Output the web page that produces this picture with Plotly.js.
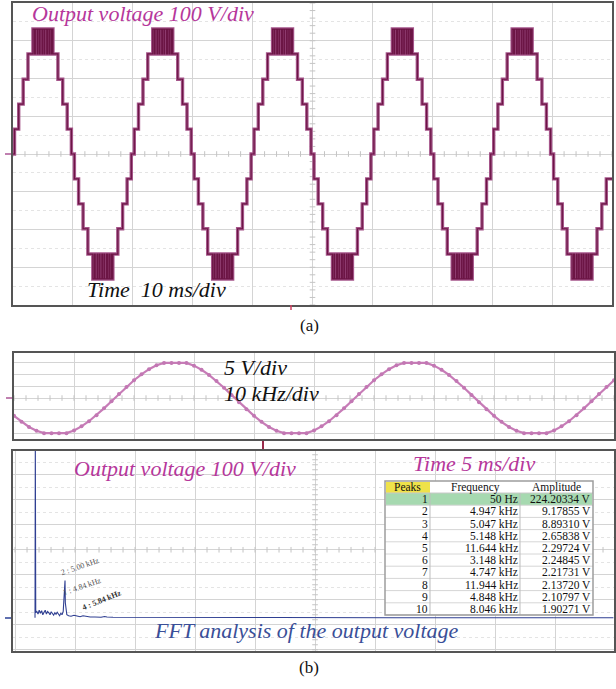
<!DOCTYPE html>
<html><head><meta charset="utf-8">
<script src="https://cdn.plot.ly/plotly-3.0.1.min.js"></script>
<style>html,body{margin:0;padding:0;background:#fff}#chart{width:616px;height:689px}</style>
</head><body><div id="chart"></div>
<script>
// ---------- Panel (a): multilevel staircase output voltage (time in ms, voltage in V) ----------
const periodStartsMs = [0, 20, 40, 60, 80];
const stepTimesMs = [-0.25, 0.25, 0.95, 1.7, 2.5, 7.5, 8.3, 9.05, 9.75, 10.25, 10.95, 11.7, 12.5, 17.5, 18.3, 19.05];
const stepLevels  = [0, 1, 2, 3, 4, 3, 2, 1, 0, -1, -2, -3, -4, -3, -2, -1];
const levelVolts  = [0, 66, 132, 198, 265, 331];
const pwmStartMs  = [3.33, 13.33];
const pwmSigns    = [1, -1];
const pwmEdgesMs  = [0, 0.25, 0.4, 0.7, 0.85, 1.1, 1.2, 1.5, 1.65, 1.9, 2.0, 2.3, 2.45, 2.7, 2.8, 3.05, 3.15, 3.34];

// ---------- Panel (b) top: filtered sine (divisions) ----------
const stripStepDiv = 0.125;
const stripValues = [
 -1.52,-2.03,-2.47,-2.80,-3.00,-3.00,-3.00,-3.00,-2.77,-2.42,-1.98,-1.46,-0.88,-0.27,0.35,0.95,
  1.52,2.03,2.47,2.80,3.00,3.00,3.00,3.00,2.77,2.42,1.98,1.46,0.88,0.27,-0.35,-0.95,
 -1.52,-2.03,-2.47,-2.80,-3.00,-3.00,-3.00,-3.00,-2.77,-2.42,-1.98,-1.46,-0.88,-0.27,0.35,0.95,
  1.52,2.03,2.47,2.80,3.00,3.00,3.00,3.00,2.77,2.42,1.98,1.46,0.88,0.27,-0.35,-0.95,
 -1.52,-2.03,-2.47,-2.80,-3.00,-3.00,-3.00,-3.00,-2.77,-2.42,-1.98,-1.46,-0.88,-0.27,0.35,0.95,1.52
];

// ---------- Panel (b) bottom: FFT spectrum (kHz, V on screen) ----------
const fftFreqKHz = [0.00,0.05,0.12,0.3,0.5,0.7,0.9,1.1,1.3,1.5,1.7,1.9,2.1,2.3,2.5,2.7,2.9,3.1,3.3,3.5,3.7,3.9,4.1,4.3,4.5,4.7,4.84,4.95,5.0,5.05,5.15,5.3,5.6,6.0,6.5,7.0,7.5,8.0,8.4,8.8,9.2,10.0,11.0,11.6,12.0,13.0,20,40,60,80,96.4];
const fftAmpV    = [0,700,20,25,15,30,18,28,12,22,30,15,25,20,12,24,18,10,20,14,22,16,8,18,12,25,70,110,149,60,25,12,8,6,10,6,4,8,6,4,3,3,2,5,3,2,1,1,0,0,0];

// ---------- Peaks table ----------
const peakIds   = [1,2,3,4,5,6,7,8,9,10];
const peakFreqs = ['50 Hz','4.947 kHz','5.047 kHz','5.148 kHz','11.644 kHz','3.148 kHz','4.747 kHz','11.944 kHz','4.848 kHz','8.046 kHz'];
const peakAmps  = ['224.20334 V','9.17855 V','8.89310 V','2.65838 V','2.29724 V','2.24845 V','2.21731 V','2.13720 V','2.10797 V','1.90271 V'];
const tableHeader = ['Peaks','Frequency','Amplitude'];

// ---------- build staircase ----------
const ev = [];
periodStartsMs.forEach(p => {
  stepTimesMs.forEach((t, i) => {
    const l = stepLevels[i];
    ev.push([p + t, Math.sign(l) * levelVolts[Math.abs(l)]]);
  });
  pwmStartMs.forEach((s, k) => {
    pwmEdgesMs.forEach((e, j) => {
      ev.push([p + s + e, pwmSigns[k] * levelVolts[j % 2 === 0 ? 5 : 4]]);
    });
  });
});
ev.sort((a, b) => a[0] - b[0]);
ev.push([100.5, ev[ev.length - 1][1]]);
const stT = ev.map(e => e[0]), stV = ev.map(e => e[1]);

const W = 616, H = 689;
const px = x => x / W, py = y => 1 - y / H;

function range(a, b, s) { const r = []; for (let v = a; v <= b + 1e-9; v += s) r.push(+v.toFixed(4)); return r; }

const gridC = '#d4d4d4';
function ax(extra) {
  return Object.assign({
    showgrid: true, gridcolor: gridC, gridwidth: 1, zeroline: false,
    showticklabels: false, ticks: '', showline: true, mirror: true,
    linecolor: '#555', linewidth: 2, fixedrange: true
  }, extra);
}

const tickMark = (xs, ys, sym, xa, ya) => ({
  type: 'scatter', mode: 'markers', x: xs, y: ys, xaxis: xa, yaxis: ya, hoverinfo: 'skip',
  marker: { symbol: sym, size: 4, color: '#c4c4c4', line: { width: 1, color: '#c4c4c4' } }
});

const tA = range(0, 100, 2), vA = range(-400, 400, 20);
const tS = range(0, 10, 0.2);
const fF = range(-3.33, 96, 2), vF = range(-128, 660, 20);

const stripX = stripValues.map((_, i) => i * stripStepDiv);

const data = [
  tickMark(tA, tA.map(() => 0), 'line-ns', 'x', 'y'),
  tickMark(vA.map(() => 50), vA, 'line-ew', 'x', 'y'),
  { type: 'scatter', mode: 'lines', x: stT, y: stV, xaxis: 'x', yaxis: 'y', line: { shape: 'hv', color: '#a5558a', width: 3.4 }, hoverinfo: 'skip' },
  { type: 'scatter', mode: 'lines', x: stT, y: stV, xaxis: 'x', yaxis: 'y', line: { shape: 'hv', color: '#6c1545', width: 1.2 }, hoverinfo: 'skip' },

  tickMark(tS, tS.map(() => 0), 'line-ns', 'x2', 'y2'),
  { type: 'scatter', mode: 'lines+markers', x: stripX, y: stripValues, xaxis: 'x2', yaxis: 'y2',
    line: { shape: 'linear', color: '#c77cb7', width: 2.2 }, marker: { size: 4, color: '#c277b3' }, hoverinfo: 'skip' },

  tickMark(fF, fF.map(() => 272), 'line-ns', 'x3', 'y3'),
  tickMark(vF.map(() => 46.67), vF, 'line-ew', 'x3', 'y3'),
  { type: 'scatter', mode: 'lines', x: fftFreqKHz, y: fftAmpV, xaxis: 'x3', yaxis: 'y3', line: { color: '#2f3f92', width: 1.1 }, hoverinfo: 'skip' }
];

function ann(text, x, y, size, color, opts) {
  return Object.assign({ text, xref: 'paper', yref: 'paper', x: px(x), y: py(y), xanchor: 'left', yanchor: 'middle',
    showarrow: false, font: { family: 'Liberation Serif', size, color } }, opts || {});
}

const magenta = '#b6379b';
const annotations = [
  ann('<i>Output voltage 100 V/div</i>', 30, 14, 22, magenta),
  ann('<i>Time\u00a0 10 ms/div</i>', 85, 289, 22, '#111'),
  ann('(a)', 309, 325, 17, '#111', { xanchor: 'center' }),
  ann('<i>5 V/div</i>', 222, 367, 22, '#111'),
  ann('<i>10 kHz/div</i>', 222, 393, 22, '#111'),
  ann('<i>Output voltage 100 V/div</i>', 72, 468, 22, magenta),
  ann('<i>Time 5 ms/div</i>', 411, 463, 22, magenta),
  ann('<i>FFT analysis of the output voltage</i>', 152, 630, 22, '#3a4f98'),
  ann('(b)', 309, 667, 17, '#111', { xanchor: 'center' }),
  ann('2 : 5.00 kHz', 80, 566, 8, '#555', { xanchor: 'center', textangle: -19 }),
  ann('1 : 4.84 kHz', 82, 586, 8, '#555', { xanchor: 'center', textangle: -19 }),
  ann('<b>4 : 5.84 kHz</b>', 101, 600, 8, '#333', { xanchor: 'center', textangle: -22 })
];

const shapes = [
  { type: 'rect', xref: 'paper', yref: 'paper', x0: px(521), x1: px(612), y0: py(380), y1: py(355), fillcolor: '#fff', line: { width: 0 }, layer: 'between' },
  { type: 'line', xref: 'paper', yref: 'paper', x0: px(263), x1: px(263), y0: py(441), y1: py(449), line: { color: '#9a2a4a', width: 2 } },
  { type: 'line', xref: 'paper', yref: 'paper', x0: px(291), x1: px(291), y0: py(305), y1: py(310), line: { color: '#d04060', width: 1.5 } },
  { type: 'line', xref: 'paper', yref: 'paper', x0: px(5), x1: px(11), y0: py(154), y1: py(154), line: { color: '#c080b0', width: 2 } },
  { type: 'line', xref: 'paper', yref: 'paper', x0: px(6), x1: px(12), y0: py(398), y1: py(398), line: { color: '#c080b0', width: 2 } },
  { type: 'line', xref: 'paper', yref: 'paper', x0: px(5), x1: px(11), y0: py(618), y1: py(618), line: { color: '#6070b0', width: 2 } }
];

// ---------- table drawn with shapes + annotations ----------
const tbl = { x0: 385, x1: 593, colX: [385, 430, 520, 593], top: 481, headH: 12, rowH: 12.2 };
const tBottom = tbl.top + tbl.headH + peakIds.length * tbl.rowH;
const rect = (x0, x1, y0, y1, fill, line) => ({ type: 'rect', xref: 'paper', yref: 'paper', x0: px(x0), x1: px(x1), y0: py(y1), y1: py(y0), fillcolor: fill, line: line || { width: 0 } });
const hline = (x0, x1, y, c) => ({ type: 'line', xref: 'paper', yref: 'paper', x0: px(x0), x1: px(x1), y0: py(y), y1: py(y), line: { color: c, width: 1 } });
const vline = (x, y0, y1, c) => ({ type: 'line', xref: 'paper', yref: 'paper', x0: px(x), x1: px(x), y0: py(y0), y1: py(y1), line: { color: c, width: 1 } });

shapes.push(rect(tbl.x0, tbl.x1, tbl.top, tBottom, '#ffffff'));
shapes.push(rect(tbl.colX[0] + 1, tbl.colX[1], tbl.top + 1, tbl.top + tbl.headH, '#efe24a'));
peakIds.forEach((id, i) => {
  const y0 = tbl.top + tbl.headH + i * tbl.rowH;
  if (id === 1) shapes.push(rect(tbl.x0 + 1, tbl.x1 - 1, y0, y0 + tbl.rowH, '#a6d9b0'));
  shapes.push(hline(tbl.x0, tbl.x1, y0 + tbl.rowH, '#d6d6d6'));
});
shapes.push(hline(tbl.x0, tbl.x1, tbl.top + tbl.headH, '#c8c8c8'));
shapes.push(vline(tbl.colX[1], tbl.top + tbl.headH, tBottom, '#bdbdbd'));
shapes.push(vline(tbl.colX[2], tbl.top + tbl.headH, tBottom, '#bdbdbd'));
shapes.push(rect(tbl.x0, tbl.x1, tbl.top, tBottom, 'rgba(0,0,0,0)', { color: '#9d9d9d', width: 1.5 }));

const tf = 11.5;
tableHeader.forEach((h, c) => {
  annotations.push(ann(h, (tbl.colX[c] + tbl.colX[c + 1]) / 2, tbl.top + tbl.headH / 2, tf, '#111', { xanchor: 'center', borderpad: 0 }));
});
peakIds.forEach((id, i) => {
  const yc = tbl.top + tbl.headH + (i + 0.5) * tbl.rowH;
  [String(id), peakFreqs[i], peakAmps[i]].forEach((txt, c) => {
    annotations.push(ann(txt, tbl.colX[c + 1] - 1, yc, tf, '#111', { xanchor: 'right', borderpad: 0 }));
  });
});

const minorY = (d, t0) => ({ dtick: d, tick0: t0, showgrid: true, gridcolor: '#e4e4e4', griddash: 'dot', ticks: '' });

const layout = {
  width: W, height: H, margin: { l: 0, r: 0, t: 0, b: 0 },
  paper_bgcolor: '#fff', plot_bgcolor: '#fff', showlegend: false,
  xaxis:  ax({ domain: [px(13), px(612)], range: [0, 100], dtick: 10, tick0: 0, anchor: 'y' }),
  yaxis:  ax({ domain: [py(305), py(3)], range: [-400, 400], dtick: 100, tick0: 0, anchor: 'x', minor: minorY(50, 0) }),
  xaxis2: ax({ domain: [px(14), px(614)], range: [0, 10], dtick: 1, tick0: 0, anchor: 'y2' }),
  yaxis2: ax({ domain: [py(439), py(353)], range: [-3.5, 3.85], dtick: 1, tick0: 0, anchor: 'x2' }),
  xaxis3: ax({ domain: [px(13), px(614)], range: [-3.67, 96.5], dtick: 10, tick0: -3.33, anchor: 'y3' }),
  yaxis3: ax({ domain: [py(651), py(451)], range: [-133, 667], dtick: 100, tick0: -28, anchor: 'x3', minor: minorY(50, -28) }),
  annotations, shapes
};

Plotly.newPlot('chart', data, layout, { staticPlot: true, displayModeBar: false });
</script></body></html>
